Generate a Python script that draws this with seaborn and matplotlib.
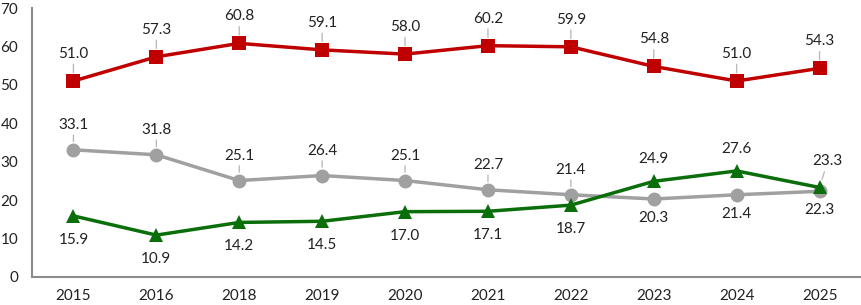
import pandas as pd
import numpy as np
import seaborn as sns
import matplotlib.pyplot as plt

years = ['2015', '2016', '2018', '2019', '2020', '2021', '2022', '2023', '2024', '2025']
red_vals = [51.0, 57.3, 60.8, 59.1, 58.0, 60.2, 59.9, 54.8, 51.0, 54.3]
gray_vals = [33.1, 31.8, 25.1, 26.4, 25.1, 22.7, 21.4, 20.3, 21.4, 22.3]
green_vals = [15.9, 10.9, 14.2, 14.5, 17.0, 17.1, 18.7, 24.9, 27.6, 23.3]

sns.set_style('white')
plt.rcParams['font.family'] = ['Lato', 'DejaVu Sans']

df = pd.DataFrame({
    'year': years * 3,
    'value': red_vals + gray_vals + green_vals,
    'series': ['red'] * 10 + ['gray'] * 10 + ['green'] * 10,
})

colors = {'red': '#C00000', 'gray': '#A0A0A0', 'green': '#0A6E0A'}
markers = {'red': 's', 'gray': 'o', 'green': '^'}

fig = plt.figure(figsize=(8.61, 3.05), dpi=100)
ax = fig.add_axes([32 / 861, 28 / 305, 1 - 32 / 861, 269 / 305])

sns.lineplot(data=df, x='year', y='value', hue='series', style='series',
             palette=colors, markers=markers, dashes=False, sort=False,
             linewidth=2.5, markersize=10, markeredgewidth=0, legend=False, ax=ax)

ax.set_ylim(0, 70)
ax.set_xlim(-0.5, 9.5)
ax.set_yticks(range(0, 71, 10))
ax.set_xlabel('')
ax.set_ylabel('')
ax.tick_params(axis='both', length=0, labelsize=11, colors='#222222')
ax.tick_params(axis='x', pad=9)
ax.tick_params(axis='y', pad=10)
for s in ['top', 'right']:
    ax.spines[s].set_visible(False)
for s in ['left', 'bottom']:
    ax.spines[s].set_color('#8C8C8C')
    ax.spines[s].set_linewidth(1.5)

lead = dict(arrowstyle='-', color='#BBBBBB', lw=1, shrinkA=0, shrinkB=6)


def label(i, v, dy, dx=0, line=True):
    ax.annotate(f'{v:.1f}', xy=(i, v), xytext=(dx, dy), textcoords='offset pixels',
                ha='center', va='center', fontsize=11, color='#222222',
                arrowprops=lead if line else None)


for i, v in enumerate(red_vals):
    label(i, v, 27)
for i, v in enumerate(gray_vals):
    if i < 7:
        label(i, v, 25)
    else:
        label(i, v, -19, line=False)
for i, v in enumerate(green_vals):
    if i < 7:
        label(i, v, -24, line=False)
    elif i < 9:
        label(i, v, 22, line=False)
    else:
        label(i, v, 26, dx=8)

fig.savefig('out.png', dpi=100)
